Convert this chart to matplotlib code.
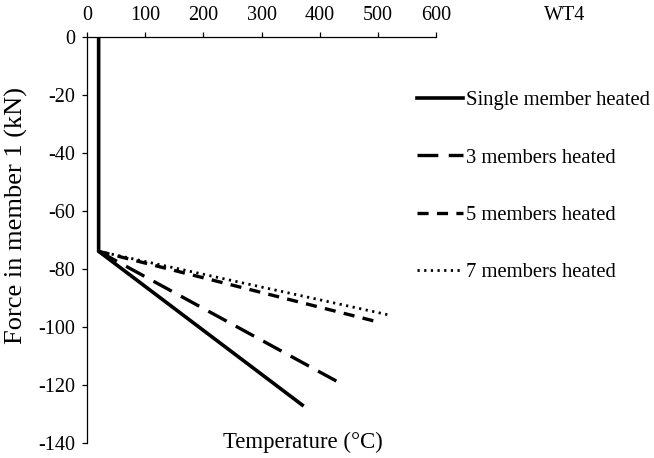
import numpy as np
import matplotlib
matplotlib.use("Agg")
import matplotlib.pyplot as plt

plt.rcParams['font.family'] = ['Liberation Serif', 'DejaVu Serif']
plt.rcParams['axes.unicode_minus'] = False
plt.rcParams['lines.scale_dashes'] = False

# temperature (C) and force (kN) for each case
t_single = [20, 20, 370]
f_single = [0, -74, -127]
t_3 = [20, 431]
f_3 = [-74, -119]
t_5 = [20, 493]
f_5 = [-74, -98]
t_7 = [20, 520]
f_7 = [-74, -96]

labels = ['Single member heated', '3 members heated', '5 members heated', '7 members heated']
xticks = [0, 100, 200, 300, 400, 500, 600]
yticks = [0, -20, -40, -60, -80, -100, -120, -140]

fs = 14.5
fig = plt.figure(figsize=(6.54, 4.58), dpi=100)
ax = fig.add_axes([87/654, 1-442.7/458, (436-87)/654, (442.7-36.7)/458])

l1, = ax.plot(t_single, f_single, color='k', lw=2.6, solid_joinstyle='miter')
l2, = ax.plot(t_3, f_3, color='k', lw=2.4, dashes=(15, 7.5))
l3, = ax.plot(t_5, f_5, color='k', lw=2.4, dashes=(8, 6))
l4, = ax.plot(t_7, f_7, color='k', lw=2.0, dashes=(1.6, 3.2))

ax.set_xlim(0, 600)
ax.set_ylim(-140, 0)
ax.xaxis.tick_top()
ax.set_xticks(xticks)
ax.set_yticks(yticks)
ax.tick_params(axis='both', direction='out', length=3.6, width=0.9, pad=5,
               labelsize=fs, color='k')
for s in ['right', 'bottom']:
    ax.spines[s].set_visible(False)
for s in ['top', 'left']:
    ax.spines[s].set_linewidth(0.9)

fig.text(16.5/654, 1-216/458, 'Force in member 1 (kN)', rotation=90,
         ha='center', va='center', fontsize=19)
fig.text(303/654, 1-442/458, 'Temperature (\u00b0C)', ha='center', va='center', fontsize=16.4)
fig.text(565/654, 1-15/458, 'WT4', ha='center', va='center', fontsize=fs)

fig.legend([l1, l2, l3, l4], labels, loc='upper left',
           bbox_to_anchor=(417/654, 1-91/458), frameon=False, fontsize=14.9,
           borderpad=0, borderaxespad=0, handlelength=2.2, handletextpad=0.15,
           labelspacing=1.82)

fig.savefig('out.png', dpi=100)
